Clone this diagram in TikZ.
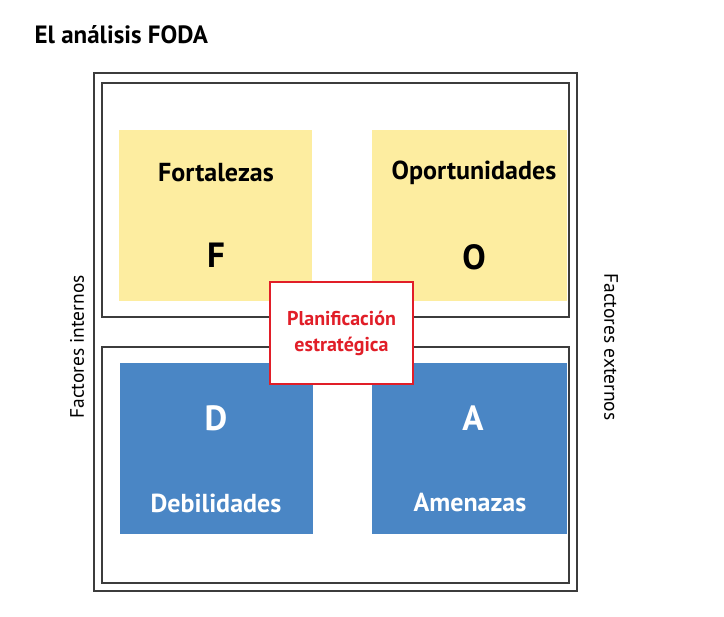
\documentclass[tikz,border=0pt]{standalone}
\usepackage{fontspec}
\setmainfont{PT Sans}
\definecolor{gelb}{RGB}{253,237,160}
\definecolor{blau}{RGB}{74,134,197}
\definecolor{rot}{RGB}{225,30,40}
\definecolor{rand}{RGB}{60,60,60}
\begin{document}
\begin{tikzpicture}[x=1pt,y=-1pt]
			\tikzset{rahmen/.style={draw=rand, line width=1.3pt, fill=white, inner sep=0},
			feld/.style={inner sep=0, minimum width=193, minimum height=171},
			wort/.style={font=\bfseries\fontsize{26}{30}\selectfont},
			buchst/.style={font=\bfseries\fontsize{35}{40}\selectfont},
			seite/.style={font=\fontsize{19.5}{23}\selectfont}}
\useasboundingbox (0,0) rectangle (724,617);

\node[anchor=west, font=\bfseries\fontsize{25}{30}\selectfont] at (31,35) (titel) {El análisis FODA};

\node[rahmen, minimum width=483, minimum height=518] at (335.5,332) (aussen) {};
\node[rahmen, minimum width=467, minimum height=234] at (335.5,200) (oben) {};
\node[rahmen, minimum width=467, minimum height=236] at (335.5,465) (unten) {};

\node[feld, fill=gelb] at (215.5,216) (f) {};
\node[feld, fill=gelb, minimum width=195] at (469.5,216) (o) {};
\node[feld, fill=blau] at (216,449) (d) {};
\node[feld, fill=blau, minimum width=195] at (469.5,449) (a) {};

\node[wort] at (216,173) (fort) {Fortalezas};
\node[buchst] at (216,255) (fb) {F};
\node[wort] at (474,173) (opor) {Oportunidades};
\node[buchst] at (474,257) (ob) {O};
\node[buchst, text=white] at (216,418) (db) {D};
\node[wort, text=white] at (216,503) (debi) {Debilidades};
\node[buchst, text=white] at (473,418) (ab) {A};
\node[wort, text=white] at (470,503) (amen) {Amenazas};

\node[draw=rot, line width=1.6pt, fill=white, minimum width=143, minimum height=102,
	text=rot, align=center, font=\bfseries\fontsize{20}{26}\selectfont] at (341.5,333) (plan) {Planificación\\estratégica};

\node[seite, rotate=90] at (77,347) (intern) {Factores internos};
\node[seite, rotate=-90] at (611,347) (extern) {Factores externos};
		\end{tikzpicture}
\end{document}
